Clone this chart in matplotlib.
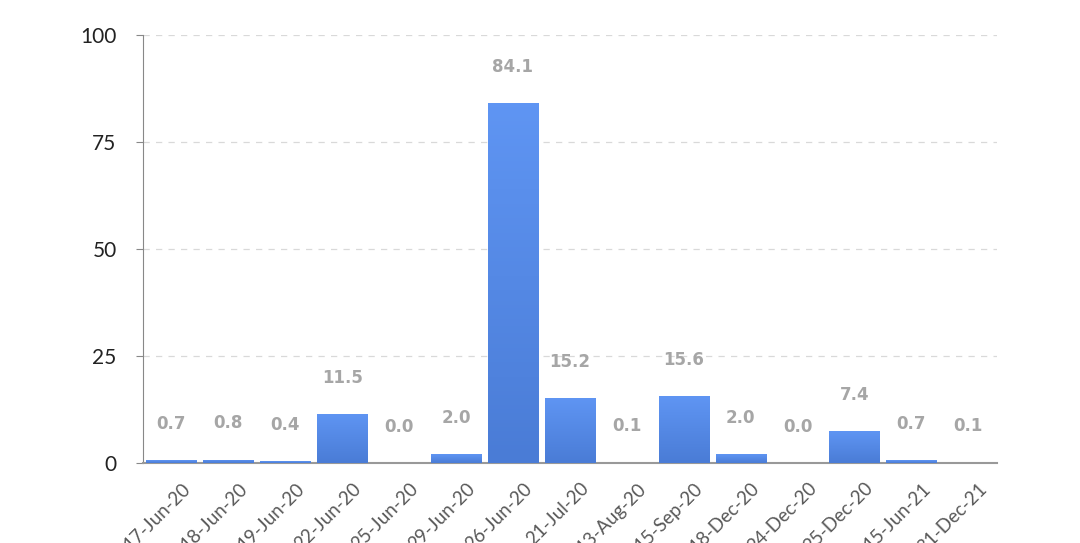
import numpy as np
import matplotlib
matplotlib.use("Agg")
import matplotlib.pyplot as plt
import matplotlib.transforms as mtransforms
from matplotlib.colors import LinearSegmentedColormap

# data
dates = ["17-Jun-20", "18-Jun-20", "19-Jun-20", "22-Jun-20", "25-Jun-20",
         "29-Jun-20", "26-Jun-20", "21-Jul-20", "13-Aug-20", "15-Sep-20",
         "18-Dec-20", "24-Dec-20", "25-Dec-20", "15-Jun-21", "31-Dec-21"]
values = [0.7, 0.8, 0.4, 11.5, 0.0, 2.0, 84.1, 15.2, 0.1, 15.6,
          2.0, 0.0, 7.4, 0.7, 0.1]
yticks = [0, 25, 50, 75, 100]

plt.rcParams['font.family'] = ['Lato', 'DejaVu Sans']

fig = plt.figure(figsize=(10.8, 5.43), dpi=100)
ax = fig.add_axes([0.1324, 0.1473, 0.7906, 0.7882])

x = np.arange(len(values))
width = 0.88
bars = ax.bar(x, values, width=width, color="#5288e8", zorder=2)

# vertical gradient inside each bar, lighter on top
grad_cmap = LinearSegmentedColormap.from_list("g", ["#4a7cd6", "#5f95f3"])
grad = np.linspace(0, 1, 100).reshape(-1, 1)
for b in bars:
    h = b.get_height()
    if h <= 0:
        continue
    x0 = b.get_x()
    im = ax.imshow(grad, cmap=grad_cmap, origin="lower", aspect="auto",
                   extent=[x0, x0 + b.get_width(), 0, h], zorder=3)
    im.set_clip_path(b)

# value labels
for xi, v in zip(x, values):
    ax.annotate(f"{v:.1f}", (xi, v), xytext=(0, 26), textcoords="offset points",
                ha="center", va="center", fontsize=12, fontweight="bold",
                color="#a6a6a6", family=['Verdana', 'DejaVu Sans'])

ax.set_xlim(-0.5, len(values) - 0.5)
ax.set_ylim(0, 100)
ax.set_yticks(yticks)
ax.set_yticklabels([str(t) for t in yticks], fontsize=15, color="#222222")
ax.set_xticks(x)
ax.set_xticklabels(dates, rotation=45, ha="right", rotation_mode="anchor",
                   fontsize=13.5, color="#595959")
ax.tick_params(axis="x", length=0, pad=12)
ax.tick_params(axis="y", length=5, color="#888888", pad=14)

# shift rotated labels a little to the right
shift = mtransforms.ScaledTranslation(10 / 100, 0, fig.dpi_scale_trans)
for lab in ax.get_xticklabels():
    lab.set_transform(lab.get_transform() + shift)

ax.grid(axis="y", color="#d9d9d9", linestyle=(0, (5, 5)), linewidth=0.9, zorder=0)
for s in ["top", "right"]:
    ax.spines[s].set_visible(False)
ax.spines["left"].set_color("#888888")
ax.spines["bottom"].set_color("#999999")
ax.spines["bottom"].set_linewidth(1.5)

fig.savefig("out.png", dpi=100)
